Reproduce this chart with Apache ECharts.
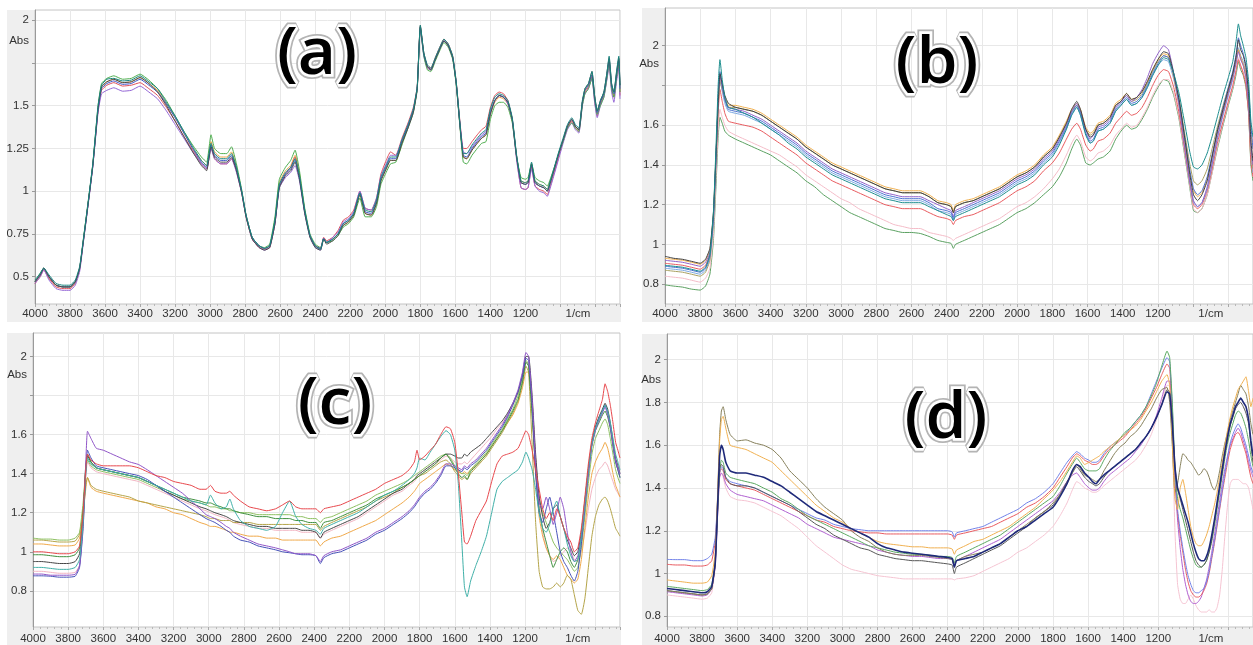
<!DOCTYPE html>
<html><head><meta charset="utf-8">
<script src="https://cdn.jsdelivr.net/npm/echarts@6/dist/echarts.min.js"></script>
<style>html,body{margin:0;padding:0;background:#fff}#c{width:1253px;height:645px}</style>
</head><body><div id="c"></div>
<script>
// ---------- axis tick / label values ----------
const X_LABELS = [4000,3800,3600,3400,3200,3000,2800,2600,2400,2200,2000,1800,1600,1400,1200];
const X_UNIT_AT = 900; // "1/cm" label sits here
const Y_TICKS_A = [0.5,0.75,1,1.25,1.5,1.75,2];
const Y_LABELS_A = [0.5,0.75,1,1.25,1.5,2];
const Y_TICKS_B = [0.8,1,1.2,1.4,1.6,1.8,2];
const Y_LABELS_B = [0.8,1,1.2,1.4,1.6,2];
const Y_TICKS_C = [0.8,1,1.2,1.4,1.6,1.8,2];
const Y_LABELS_C = [0.8,1,1.2,1.4,1.6,2];
const Y_TICKS_D = [0.8,1,1.2,1.4,1.6,1.8,2];
const Y_LABELS_D = [0.8,1,1.2,1.4,1.6,1.8,2];

// ---------- panel (a) ----------
const WN_A = [4000,3970,3950,3920,3880,3840,3800,3770,3745,3725,
3700,3670,3640,3620,3590,3550,3500,3450,3400,3350,
3300,3250,3200,3150,3100,3050,3020,2995,2975,2940,
2905,2878,2850,2820,2795,2760,2720,2690,2660,2630,
2605,2570,2540,2515,2490,2460,2430,2400,2370,2352,
2335,2300,2270,2240,2210,2180,2145,2115,2080,2050,
2025,1995,1970,1940,1905,1870,1840,1818,1800,1780,
1760,1740,1715,1690,1665,1640,1615,1595,1575,1555,
1535,1505,1475,1450,1425,1400,1375,1350,1325,1300,
1275,1250,1225,1200,1185,1165,1145,1120,1095,1075,
1055,1035,1010,985,960,935,915,895,875,860,
840,820,805,790,772,752,735,722,708,695,
680,667,660];
const A_BLUE = [0.47,0.51,0.55,0.50,0.45,0.44,0.44,0.47,0.55,0.70,
0.90,1.15,1.48,1.60,1.63,1.645,1.625,1.63,1.655,1.62,
1.58,1.51,1.43,1.34,1.25,1.17,1.14,1.27,1.21,1.18,
1.18,1.21,1.13,1.00,0.86,0.73,0.68,0.665,0.68,0.82,
1.03,1.10,1.13,1.18,1.08,0.88,0.74,0.68,0.665,0.725,
0.70,0.72,0.75,0.81,0.83,0.87,0.99,0.88,0.87,0.94,
1.07,1.14,1.19,1.19,1.29,1.38,1.47,1.60,1.96,1.80,
1.73,1.71,1.77,1.83,1.88,1.85,1.78,1.63,1.40,1.21,
1.20,1.25,1.29,1.32,1.34,1.46,1.53,1.56,1.55,1.52,
1.42,1.20,1.05,1.04,1.05,1.15,1.05,1.03,1.02,1.00,
1.06,1.13,1.22,1.30,1.38,1.42,1.38,1.36,1.52,1.59,
1.62,1.68,1.55,1.46,1.52,1.57,1.68,1.77,1.62,1.57,
1.68,1.77,1.60];
const A_GREEN = [0.47,0.52,0.55,0.50,0.45,0.44,0.44,0.47,0.55,0.71,
0.91,1.16,1.50,1.63,1.66,1.675,1.655,1.66,1.685,1.65,
1.60,1.53,1.44,1.35,1.27,1.20,1.17,1.33,1.25,1.22,
1.22,1.26,1.16,1.01,0.86,0.73,0.68,0.67,0.69,0.85,
1.07,1.14,1.18,1.24,1.12,0.90,0.75,0.69,0.67,0.72,
0.70,0.71,0.74,0.79,0.81,0.85,0.96,0.85,0.85,0.91,
1.04,1.11,1.16,1.17,1.27,1.37,1.46,1.59,1.95,1.79,
1.71,1.70,1.76,1.82,1.87,1.84,1.77,1.62,1.39,1.17,
1.16,1.21,1.25,1.28,1.29,1.42,1.50,1.52,1.52,1.49,
1.40,1.20,1.08,1.07,1.08,1.16,1.08,1.06,1.05,1.03,
1.08,1.14,1.22,1.29,1.37,1.40,1.37,1.35,1.50,1.57,
1.60,1.66,1.54,1.45,1.50,1.55,1.66,1.75,1.60,1.55,
1.66,1.76,1.58];
const A_TEAL = [0.48,0.52,0.55,0.51,0.46,0.45,0.45,0.48,0.56,0.71,
0.91,1.16,1.50,1.62,1.655,1.66,1.645,1.65,1.675,1.64,
1.60,1.52,1.44,1.35,1.26,1.18,1.15,1.28,1.22,1.19,
1.19,1.22,1.14,1.00,0.86,0.73,0.68,0.665,0.68,0.83,
1.04,1.11,1.14,1.19,1.09,0.89,0.74,0.68,0.66,0.72,
0.70,0.72,0.75,0.81,0.83,0.87,0.99,0.89,0.88,0.95,
1.08,1.15,1.20,1.20,1.30,1.39,1.48,1.61,1.97,1.81,
1.74,1.72,1.78,1.84,1.89,1.86,1.79,1.64,1.41,1.22,
1.22,1.27,1.31,1.34,1.36,1.48,1.55,1.57,1.56,1.53,
1.43,1.21,1.06,1.05,1.06,1.17,1.06,1.04,1.03,1.01,
1.07,1.14,1.23,1.31,1.39,1.43,1.39,1.37,1.53,1.60,
1.63,1.70,1.56,1.47,1.53,1.58,1.69,1.79,1.63,1.58,
1.70,1.79,1.62];
const A_RED = [0.46,0.50,0.54,0.49,0.44,0.43,0.43,0.46,0.54,0.70,
0.90,1.15,1.47,1.59,1.62,1.635,1.615,1.62,1.635,1.60,
1.56,1.49,1.41,1.32,1.24,1.16,1.13,1.26,1.19,1.16,
1.16,1.19,1.12,0.99,0.85,0.72,0.67,0.66,0.67,0.81,
1.03,1.10,1.14,1.20,1.09,0.88,0.74,0.68,0.665,0.73,
0.71,0.73,0.77,0.83,0.85,0.89,1.00,0.90,0.89,0.96,
1.10,1.18,1.23,1.21,1.31,1.40,1.49,1.61,1.96,1.80,
1.73,1.72,1.78,1.84,1.89,1.86,1.79,1.64,1.42,1.25,
1.25,1.29,1.33,1.36,1.38,1.49,1.56,1.58,1.57,1.53,
1.42,1.19,1.02,1.01,1.02,1.14,1.03,1.01,1.00,0.98,
1.04,1.11,1.20,1.29,1.37,1.41,1.37,1.35,1.51,1.58,
1.61,1.67,1.53,1.44,1.51,1.56,1.66,1.75,1.60,1.55,
1.66,1.74,1.56];
const A_PURPLE = [0.46,0.50,0.54,0.48,0.43,0.42,0.42,0.45,0.53,0.69,
0.89,1.14,1.46,1.57,1.59,1.605,1.585,1.59,1.615,1.58,
1.54,1.47,1.39,1.31,1.23,1.16,1.13,1.25,1.19,1.16,
1.16,1.19,1.11,0.99,0.85,0.72,0.67,0.655,0.67,0.81,
1.02,1.08,1.11,1.15,1.06,0.87,0.73,0.67,0.655,0.72,
0.70,0.73,0.76,0.82,0.84,0.88,1.00,0.90,0.89,0.96,
1.09,1.16,1.21,1.21,1.30,1.39,1.48,1.60,1.95,1.79,
1.72,1.71,1.77,1.83,1.88,1.85,1.78,1.63,1.41,1.23,
1.22,1.26,1.30,1.33,1.35,1.46,1.53,1.56,1.55,1.51,
1.41,1.18,1.02,1.01,1.02,1.13,1.03,1.00,0.99,0.97,
1.03,1.10,1.19,1.28,1.36,1.40,1.36,1.34,1.50,1.57,
1.60,1.66,1.52,1.43,1.50,1.55,1.65,1.73,1.58,1.52,
1.64,1.72,1.54];
const A_ORANGE = [0.47,0.51,0.55,0.49,0.45,0.44,0.44,0.47,0.55,0.70,
0.90,1.15,1.48,1.61,1.64,1.655,1.635,1.64,1.665,1.63,
1.59,1.51,1.43,1.34,1.25,1.18,1.15,1.29,1.23,1.20,
1.20,1.23,1.14,1.00,0.86,0.73,0.68,0.665,0.68,0.83,
1.05,1.12,1.15,1.21,1.10,0.89,0.74,0.68,0.665,0.72,
0.70,0.72,0.75,0.80,0.82,0.86,0.98,0.87,0.86,0.93,
1.06,1.13,1.18,1.18,1.28,1.38,1.47,1.60,1.96,1.80,
1.72,1.71,1.77,1.83,1.88,1.85,1.78,1.63,1.40,1.20,
1.19,1.24,1.28,1.31,1.33,1.45,1.52,1.55,1.54,1.51,
1.41,1.20,1.06,1.05,1.06,1.15,1.06,1.04,1.03,1.01,
1.07,1.13,1.22,1.30,1.38,1.42,1.38,1.36,1.52,1.59,
1.62,1.68,1.55,1.46,1.52,1.57,1.67,1.76,1.61,1.56,
1.67,1.77,1.58];
const A_BLACK = [0.47,0.51,0.55,0.50,0.45,0.44,0.44,0.47,0.55,0.70,
0.90,1.15,1.48,1.61,1.64,1.655,1.635,1.64,1.665,1.63,
1.58,1.50,1.41,1.32,1.23,1.15,1.12,1.26,1.20,1.17,
1.17,1.20,1.12,0.99,0.85,0.72,0.67,0.655,0.67,0.81,
1.02,1.09,1.12,1.17,1.07,0.87,0.73,0.67,0.655,0.72,
0.69,0.71,0.74,0.80,0.82,0.86,0.98,0.87,0.86,0.93,
1.06,1.13,1.18,1.18,1.28,1.37,1.46,1.60,1.97,1.81,
1.73,1.71,1.77,1.83,1.88,1.85,1.78,1.63,1.40,1.20,
1.19,1.24,1.28,1.31,1.33,1.45,1.53,1.56,1.55,1.52,
1.42,1.20,1.05,1.04,1.05,1.16,1.05,1.03,1.02,1.00,
1.06,1.13,1.22,1.30,1.38,1.42,1.38,1.36,1.52,1.60,
1.63,1.70,1.56,1.47,1.53,1.58,1.69,1.78,1.63,1.58,
1.69,1.78,1.62];

// ---------- panel (b) ----------
const WN_B = [4000,3950,3900,3850,3800,3770,3745,3725,3710,3698,
3688,3675,3660,3640,3600,3550,3500,3450,3400,3350,
3300,3250,3200,3150,3100,3050,3000,2950,2900,2850,
2800,2750,2700,2650,2600,2550,2500,2450,2400,2375,
2362,2350,2300,2250,2200,2150,2100,2050,2000,1950,
1900,1850,1800,1760,1720,1690,1661,1640,1610,1585,
1567,1540,1510,1472,1440,1410,1378,1350,1320,1290,
1260,1230,1200,1168,1140,1110,1080,1050,1020,998,
975,950,920,890,860,830,800,775,755,743,
730,715,700,685,672,660];
const B_ORANGE = [0.93,0.925,0.92,0.91,0.90,0.92,0.97,1.15,1.45,1.70,
1.84,1.80,1.74,1.70,1.70,1.69,1.68,1.66,1.63,1.60,
1.57,1.54,1.50,1.47,1.44,1.41,1.39,1.37,1.35,1.33,
1.31,1.29,1.28,1.27,1.27,1.27,1.25,1.22,1.21,1.20,
1.17,1.20,1.22,1.23,1.25,1.27,1.29,1.32,1.35,1.37,
1.40,1.45,1.49,1.55,1.62,1.68,1.71,1.68,1.59,1.56,
1.57,1.61,1.62,1.65,1.71,1.73,1.76,1.73,1.74,1.77,
1.82,1.88,1.93,1.96,1.95,1.84,1.70,1.52,1.36,1.27,
1.24,1.26,1.33,1.45,1.57,1.67,1.77,1.85,1.93,1.98,
1.94,1.91,1.86,1.74,1.56,1.48];
const B_BLACK = [0.94,0.93,0.925,0.915,0.905,0.925,0.98,1.16,1.46,1.71,
1.86,1.81,1.75,1.71,1.69,1.68,1.67,1.65,1.62,1.59,
1.56,1.53,1.49,1.46,1.43,1.40,1.38,1.36,1.34,1.32,
1.30,1.28,1.27,1.26,1.26,1.26,1.24,1.21,1.20,1.19,
1.16,1.19,1.21,1.22,1.24,1.26,1.28,1.31,1.34,1.36,
1.39,1.44,1.48,1.54,1.61,1.68,1.72,1.68,1.58,1.54,
1.55,1.60,1.61,1.64,1.70,1.72,1.76,1.73,1.74,1.77,
1.82,1.88,1.93,1.97,1.96,1.86,1.73,1.55,1.36,1.25,
1.22,1.25,1.32,1.45,1.58,1.68,1.78,1.86,1.95,2.03,
1.98,1.95,1.89,1.76,1.52,1.42];
const B_PURPLE = [0.92,0.915,0.91,0.90,0.89,0.91,0.96,1.14,1.44,1.72,
1.85,1.79,1.73,1.69,1.68,1.67,1.65,1.63,1.60,1.57,
1.54,1.51,1.47,1.44,1.41,1.38,1.36,1.34,1.32,1.30,
1.28,1.26,1.25,1.24,1.24,1.24,1.22,1.20,1.18,1.17,
1.14,1.17,1.19,1.21,1.23,1.25,1.27,1.30,1.33,1.35,
1.38,1.43,1.47,1.53,1.60,1.67,1.71,1.67,1.58,1.53,
1.55,1.59,1.60,1.63,1.69,1.72,1.75,1.72,1.74,1.78,
1.84,1.91,1.96,2.00,1.98,1.86,1.70,1.50,1.32,1.22,
1.19,1.21,1.29,1.42,1.55,1.66,1.76,1.84,1.92,1.97,
1.93,1.90,1.84,1.70,1.50,1.40];
const B_BLUE = [0.89,0.885,0.88,0.87,0.86,0.88,0.94,1.13,1.45,1.74,
1.87,1.80,1.73,1.68,1.67,1.66,1.64,1.62,1.59,1.56,
1.53,1.50,1.46,1.43,1.40,1.37,1.35,1.33,1.31,1.29,
1.27,1.25,1.24,1.23,1.23,1.23,1.21,1.18,1.17,1.16,
1.13,1.16,1.18,1.20,1.22,1.24,1.26,1.29,1.32,1.34,
1.37,1.42,1.46,1.52,1.59,1.66,1.70,1.66,1.56,1.52,
1.53,1.58,1.59,1.62,1.68,1.71,1.74,1.71,1.72,1.75,
1.80,1.86,1.91,1.95,1.94,1.85,1.72,1.55,1.38,1.28,
1.25,1.27,1.34,1.46,1.58,1.69,1.79,1.87,1.96,2.04,
2.00,1.96,1.90,1.78,1.60,1.48];
const B_TEAL = [0.895,0.89,0.885,0.875,0.865,0.885,0.95,1.16,1.50,1.80,
1.93,1.83,1.74,1.69,1.68,1.66,1.64,1.61,1.58,1.55,
1.51,1.48,1.44,1.41,1.38,1.35,1.33,1.31,1.29,1.27,
1.25,1.23,1.22,1.21,1.21,1.21,1.19,1.17,1.15,1.14,
1.12,1.14,1.16,1.18,1.20,1.22,1.24,1.27,1.30,1.32,
1.35,1.40,1.44,1.50,1.58,1.65,1.69,1.65,1.55,1.51,
1.52,1.57,1.58,1.61,1.67,1.70,1.73,1.70,1.71,1.74,
1.79,1.85,1.90,1.94,1.93,1.86,1.76,1.62,1.47,1.39,
1.38,1.40,1.46,1.55,1.65,1.75,1.84,1.92,2.03,2.11,
2.05,2.00,1.94,1.82,1.62,1.54];
const B_OLIVE = [0.87,0.865,0.86,0.85,0.84,0.86,0.92,1.12,1.44,1.70,
1.82,1.78,1.73,1.69,1.69,1.68,1.67,1.65,1.62,1.59,
1.56,1.53,1.49,1.46,1.43,1.40,1.38,1.36,1.34,1.32,
1.30,1.28,1.27,1.26,1.26,1.26,1.24,1.21,1.20,1.19,
1.16,1.19,1.21,1.22,1.24,1.26,1.28,1.31,1.34,1.36,
1.39,1.44,1.48,1.54,1.61,1.67,1.70,1.67,1.58,1.55,
1.56,1.60,1.61,1.64,1.70,1.72,1.75,1.72,1.73,1.76,
1.81,1.87,1.92,1.95,1.94,1.85,1.73,1.57,1.41,1.32,
1.30,1.32,1.38,1.49,1.60,1.70,1.79,1.86,1.93,1.98,
1.94,1.90,1.84,1.70,1.48,1.38];
const B_LTBLUE = [0.88,0.875,0.87,0.86,0.85,0.87,0.93,1.12,1.43,1.70,
1.83,1.77,1.71,1.67,1.66,1.65,1.63,1.61,1.58,1.55,
1.52,1.49,1.45,1.42,1.39,1.36,1.34,1.32,1.30,1.28,
1.26,1.24,1.23,1.22,1.22,1.22,1.20,1.17,1.16,1.15,
1.12,1.15,1.17,1.19,1.21,1.23,1.25,1.28,1.31,1.33,
1.36,1.41,1.45,1.51,1.58,1.65,1.69,1.65,1.56,1.51,
1.52,1.57,1.58,1.61,1.67,1.70,1.73,1.70,1.71,1.74,
1.79,1.85,1.90,1.93,1.92,1.83,1.70,1.52,1.33,1.21,
1.19,1.21,1.28,1.41,1.54,1.65,1.75,1.83,1.92,1.99,
1.95,1.92,1.86,1.72,1.48,1.36];
const B_RED = [0.905,0.90,0.895,0.885,0.875,0.895,0.95,1.13,1.42,1.66,
1.78,1.72,1.66,1.62,1.61,1.60,1.59,1.57,1.54,1.51,
1.48,1.45,1.41,1.38,1.35,1.32,1.30,1.28,1.26,1.24,
1.22,1.20,1.19,1.18,1.18,1.18,1.16,1.14,1.13,1.12,
1.10,1.12,1.14,1.15,1.17,1.19,1.21,1.24,1.27,1.29,
1.32,1.37,1.41,1.46,1.53,1.58,1.61,1.58,1.50,1.47,
1.48,1.52,1.53,1.56,1.61,1.64,1.67,1.65,1.66,1.69,
1.74,1.80,1.85,1.88,1.87,1.79,1.66,1.49,1.32,1.20,
1.18,1.20,1.27,1.39,1.52,1.62,1.72,1.80,1.88,1.93,
1.90,1.86,1.80,1.66,1.42,1.34];
const B_PINK = [0.84,0.835,0.83,0.82,0.81,0.83,0.88,1.05,1.35,1.58,
1.68,1.64,1.60,1.57,1.55,1.53,1.51,1.49,1.47,1.45,
1.42,1.39,1.35,1.32,1.29,1.26,1.23,1.21,1.18,1.16,
1.14,1.12,1.10,1.09,1.08,1.08,1.06,1.05,1.04,1.03,
1.02,1.03,1.05,1.07,1.09,1.11,1.13,1.16,1.19,1.21,
1.24,1.28,1.33,1.38,1.45,1.51,1.55,1.52,1.44,1.42,
1.43,1.46,1.47,1.50,1.55,1.58,1.61,1.59,1.60,1.64,
1.69,1.75,1.80,1.83,1.83,1.76,1.64,1.47,1.30,1.18,
1.16,1.18,1.25,1.37,1.50,1.61,1.71,1.79,1.88,1.94,
1.90,1.87,1.81,1.68,1.44,1.34];
const B_GREEN = [0.796,0.79,0.785,0.775,0.77,0.79,0.85,1.02,1.30,1.54,
1.64,1.61,1.57,1.55,1.53,1.51,1.49,1.47,1.45,1.42,
1.39,1.36,1.32,1.29,1.25,1.22,1.19,1.16,1.14,1.12,
1.10,1.08,1.07,1.06,1.06,1.055,1.04,1.02,1.01,1.005,
0.98,1.00,1.02,1.04,1.06,1.08,1.10,1.13,1.16,1.18,
1.21,1.25,1.29,1.34,1.41,1.48,1.53,1.50,1.41,1.40,
1.41,1.43,1.44,1.47,1.53,1.57,1.60,1.58,1.59,1.63,
1.68,1.74,1.79,1.83,1.82,1.75,1.63,1.46,1.29,1.17,
1.16,1.18,1.25,1.37,1.49,1.60,1.70,1.78,1.86,1.92,
1.88,1.85,1.79,1.66,1.40,1.32];

// ---------- panel (c) ----------
const WN_C = [4000,3950,3900,3850,3800,3760,3735,3715,3700,3690,
3670,3640,3600,3550,3500,3450,3400,3350,3300,3250,
3200,3150,3100,3050,3015,2990,2965,2930,2900,2880,
2860,2820,2770,2720,2670,2620,2580,2540,2505,2470,
2430,2390,2365,2345,2300,2250,2200,2150,2100,2050,
2000,1950,1900,1860,1830,1815,1800,1770,1740,1710,
1680,1650,1625,1600,1580,1560,1545,1530,1510,1480,
1450,1420,1390,1360,1330,1300,1270,1240,1215,1195,
1180,1160,1140,1120,1100,1080,1060,1040,1020,1000,
980,960,940,920,900,880,860,840,820,800,
780,760,745,730,715,700,685,672,660];
const C_RED = [1.00,1.00,0.995,0.99,0.99,1.00,1.03,1.20,1.42,1.50,
1.47,1.45,1.44,1.44,1.44,1.44,1.43,1.41,1.39,1.38,
1.36,1.35,1.34,1.32,1.32,1.34,1.31,1.30,1.30,1.31,
1.29,1.26,1.23,1.22,1.21,1.22,1.24,1.26,1.23,1.22,
1.22,1.22,1.20,1.22,1.23,1.24,1.26,1.28,1.30,1.32,
1.35,1.37,1.39,1.42,1.46,1.52,1.47,1.49,1.52,1.55,
1.60,1.64,1.63,1.56,1.40,1.20,1.05,1.04,1.08,1.16,
1.21,1.26,1.36,1.45,1.49,1.50,1.51,1.53,1.58,1.62,
1.60,1.52,1.42,1.32,1.22,1.17,1.20,1.16,1.22,1.18,
1.12,1.08,1.05,1.00,1.02,1.12,1.28,1.45,1.58,1.66,
1.72,1.78,1.86,1.82,1.75,1.66,1.56,1.52,1.48];
const C_TEAL = [0.92,0.92,0.915,0.91,0.91,0.92,0.96,1.15,1.40,1.48,
1.45,1.43,1.42,1.41,1.40,1.39,1.38,1.36,1.34,1.32,
1.30,1.28,1.26,1.25,1.24,1.29,1.25,1.22,1.23,1.27,
1.22,1.16,1.13,1.12,1.11,1.13,1.20,1.26,1.18,1.14,
1.12,1.11,1.09,1.12,1.14,1.16,1.18,1.20,1.23,1.26,
1.29,1.31,1.34,1.37,1.40,1.43,1.48,1.47,1.51,1.55,
1.59,1.62,1.60,1.52,1.35,1.05,0.82,0.77,0.85,0.93,
1.00,1.08,1.20,1.32,1.36,1.38,1.40,1.42,1.46,1.51,
1.48,1.42,1.32,1.20,1.12,1.10,1.14,1.22,1.26,1.18,
1.12,1.04,0.98,0.95,0.96,1.08,1.25,1.42,1.55,1.63,
1.68,1.72,1.75,1.72,1.66,1.58,1.50,1.46,1.42];
const C_GREEN = [0.985,0.985,0.98,0.975,0.975,0.985,1.02,1.20,1.44,1.50,
1.46,1.43,1.42,1.41,1.40,1.39,1.38,1.36,1.34,1.32,
1.30,1.28,1.27,1.26,1.25,1.25,1.24,1.23,1.22,1.22,
1.21,1.20,1.19,1.18,1.18,1.17,1.17,1.17,1.16,1.16,
1.15,1.15,1.12,1.15,1.16,1.18,1.20,1.22,1.24,1.27,
1.29,1.31,1.33,1.35,1.37,1.38,1.39,1.41,1.43,1.45,
1.48,1.50,1.47,1.43,1.40,1.38,1.39,1.37,1.41,1.44,
1.47,1.50,1.54,1.58,1.62,1.67,1.72,1.78,1.87,1.97,
1.95,1.70,1.42,1.22,1.12,1.05,0.98,0.92,0.96,1.00,
1.02,1.00,0.95,0.92,0.96,1.08,1.25,1.42,1.55,1.62,
1.66,1.70,1.72,1.69,1.63,1.54,1.46,1.42,1.38];
const C_LGREEN = [1.07,1.065,1.065,1.06,1.06,1.07,1.10,1.25,1.42,1.47,
1.44,1.42,1.41,1.40,1.39,1.38,1.37,1.35,1.33,1.31,
1.29,1.27,1.26,1.25,1.24,1.23,1.23,1.22,1.22,1.21,
1.21,1.20,1.20,1.19,1.19,1.19,1.19,1.19,1.18,1.18,
1.17,1.17,1.15,1.17,1.18,1.20,1.22,1.24,1.26,1.29,
1.31,1.33,1.35,1.37,1.39,1.40,1.41,1.43,1.45,1.47,
1.49,1.50,1.48,1.44,1.42,1.40,1.40,1.39,1.42,1.45,
1.48,1.51,1.55,1.59,1.63,1.68,1.73,1.80,1.89,1.98,
1.96,1.72,1.45,1.28,1.20,1.15,1.10,1.05,1.02,1.00,
0.98,0.96,0.93,0.90,0.92,1.02,1.18,1.35,1.50,1.58,
1.62,1.66,1.68,1.65,1.58,1.50,1.42,1.38,1.35];
const C_BLACK = [0.95,0.95,0.945,0.94,0.94,0.95,0.99,1.18,1.42,1.49,
1.46,1.43,1.42,1.41,1.40,1.39,1.38,1.36,1.34,1.31,
1.29,1.27,1.25,1.23,1.22,1.21,1.20,1.19,1.18,1.17,
1.16,1.15,1.14,1.13,1.13,1.12,1.12,1.12,1.12,1.11,
1.11,1.10,1.07,1.10,1.12,1.14,1.16,1.18,1.21,1.24,
1.27,1.30,1.32,1.35,1.37,1.39,1.40,1.42,1.44,1.46,
1.48,1.50,1.50,1.49,1.48,1.48,1.50,1.49,1.51,1.53,
1.55,1.58,1.61,1.64,1.67,1.71,1.76,1.82,1.91,2.00,
2.00,1.80,1.50,1.28,1.18,1.12,1.15,1.22,1.24,1.18,
1.12,1.06,1.02,0.98,1.00,1.10,1.26,1.42,1.56,1.64,
1.69,1.73,1.76,1.73,1.66,1.57,1.48,1.44,1.40];
const C_PURPLE = [0.886,0.886,0.88,0.88,0.88,0.885,0.93,1.15,1.45,1.617,
1.58,1.53,1.52,1.50,1.48,1.46,1.447,1.42,1.39,1.36,
1.33,1.30,1.26,1.22,1.19,1.18,1.17,1.15,1.13,1.12,
1.10,1.08,1.06,1.04,1.03,1.02,1.01,1.00,0.99,0.99,
0.99,0.98,0.95,0.98,1.00,1.01,1.03,1.05,1.07,1.10,
1.12,1.15,1.18,1.21,1.24,1.26,1.28,1.31,1.33,1.36,
1.40,1.45,1.45,1.44,1.43,1.42,1.44,1.43,1.45,1.47,
1.50,1.53,1.57,1.61,1.65,1.70,1.76,1.83,1.92,2.02,
2.00,1.78,1.45,1.25,1.22,1.28,1.22,1.14,1.20,1.28,
1.22,1.10,1.00,0.95,0.98,1.08,1.24,1.40,1.54,1.62,
1.67,1.71,1.74,1.70,1.64,1.55,1.47,1.43,1.40];
const C_NAVY = [0.877,0.877,0.875,0.87,0.87,0.875,0.92,1.12,1.40,1.52,
1.48,1.44,1.43,1.42,1.41,1.40,1.39,1.37,1.34,1.31,
1.28,1.25,1.22,1.19,1.17,1.16,1.15,1.13,1.11,1.10,
1.08,1.06,1.05,1.03,1.02,1.01,1.00,0.995,0.99,0.985,
0.985,0.98,0.94,0.97,0.99,1.00,1.02,1.04,1.06,1.09,
1.11,1.14,1.17,1.20,1.23,1.25,1.27,1.30,1.32,1.35,
1.39,1.44,1.44,1.43,1.42,1.41,1.43,1.42,1.44,1.46,
1.49,1.52,1.56,1.60,1.64,1.69,1.75,1.82,1.90,1.99,
1.98,1.75,1.40,1.20,1.15,1.22,1.28,1.20,1.10,1.00,
0.95,0.92,0.88,0.85,0.90,1.04,1.22,1.40,1.55,1.63,
1.68,1.72,1.75,1.71,1.64,1.55,1.46,1.42,1.38];
const C_ORANGE = [1.04,1.04,1.035,1.03,1.03,1.035,1.07,1.20,1.32,1.38,
1.33,1.31,1.30,1.29,1.28,1.27,1.26,1.25,1.23,1.22,
1.20,1.19,1.17,1.15,1.14,1.13,1.13,1.12,1.11,1.10,
1.10,1.09,1.08,1.08,1.07,1.07,1.06,1.06,1.06,1.06,
1.06,1.06,1.03,1.05,1.07,1.08,1.10,1.12,1.14,1.16,
1.19,1.22,1.25,1.28,1.31,1.33,1.35,1.37,1.39,1.41,
1.43,1.45,1.44,1.42,1.41,1.40,1.41,1.40,1.42,1.44,
1.47,1.50,1.54,1.58,1.62,1.66,1.70,1.76,1.84,1.92,
1.92,1.72,1.40,1.18,1.08,1.02,0.98,0.96,0.98,0.96,
0.92,0.88,0.86,0.84,0.86,0.96,1.12,1.28,1.40,1.46,
1.50,1.53,1.56,1.53,1.47,1.40,1.34,1.31,1.28];
const C_KHAKI = [1.06,1.06,1.055,1.05,1.05,1.055,1.09,1.22,1.34,1.38,
1.34,1.32,1.31,1.30,1.29,1.28,1.26,1.25,1.24,1.23,
1.22,1.21,1.20,1.19,1.18,1.17,1.17,1.16,1.16,1.16,
1.15,1.15,1.15,1.14,1.14,1.14,1.14,1.14,1.14,1.14,
1.14,1.14,1.11,1.13,1.15,1.17,1.19,1.21,1.23,1.26,
1.28,1.30,1.33,1.35,1.37,1.38,1.39,1.40,1.42,1.44,
1.46,1.47,1.45,1.41,1.39,1.37,1.38,1.37,1.40,1.43,
1.46,1.49,1.53,1.57,1.61,1.66,1.71,1.77,1.86,1.95,
1.92,1.55,1.15,0.90,0.82,0.81,0.81,0.82,0.84,0.82,
0.84,0.88,0.86,0.78,0.70,0.68,0.76,0.92,1.08,1.18,
1.24,1.27,1.28,1.26,1.22,1.17,1.12,1.10,1.08];
const C_PINK = [0.90,0.90,0.895,0.89,0.89,0.895,0.93,1.12,1.38,1.46,
1.43,1.41,1.40,1.39,1.38,1.37,1.36,1.34,1.32,1.30,
1.28,1.26,1.24,1.22,1.21,1.20,1.19,1.18,1.17,1.16,
1.15,1.14,1.13,1.12,1.12,1.11,1.11,1.11,1.11,1.10,
1.10,1.10,1.07,1.09,1.11,1.13,1.15,1.17,1.20,1.23,
1.26,1.29,1.31,1.34,1.36,1.38,1.39,1.41,1.43,1.45,
1.47,1.49,1.48,1.46,1.45,1.45,1.46,1.45,1.47,1.50,
1.53,1.56,1.59,1.63,1.66,1.70,1.75,1.81,1.89,1.97,
1.96,1.76,1.48,1.25,1.10,1.02,0.98,0.95,0.96,0.98,
1.00,1.02,1.00,0.96,0.95,1.00,1.10,1.22,1.32,1.38,
1.42,1.44,1.46,1.44,1.40,1.36,1.32,1.30,1.28];

// ---------- panel (d) ----------
const WN_D = [4000,3950,3900,3850,3800,3770,3745,3725,3710,3700,
3690,3680,3665,3640,3600,3550,3500,3450,3400,3350,
3300,3250,3200,3150,3100,3050,3000,2950,2900,2850,
2800,2750,2700,2650,2600,2550,2500,2450,2400,2375,
2362,2350,2300,2250,2200,2150,2100,2050,2000,1950,
1900,1850,1800,1760,1720,1690,1665,1645,1620,1595,
1575,1555,1535,1510,1480,1450,1420,1390,1360,1330,
1300,1270,1240,1210,1180,1150,1135,1120,1105,1090,
1075,1060,1045,1030,1015,1000,985,970,955,940,
925,910,895,880,865,850,835,820,805,790,
775,760,745,730,715,700,685,672,660];
const D_OLIVE = [0.92,0.915,0.91,0.905,0.90,0.905,0.93,1.05,1.40,1.65,
1.76,1.78,1.72,1.65,1.62,1.625,1.61,1.60,1.58,1.54,
1.48,1.44,1.40,1.35,1.31,1.28,1.25,1.20,1.17,1.15,
1.12,1.10,1.09,1.085,1.085,1.085,1.08,1.075,1.07,1.065,
1.03,1.06,1.08,1.09,1.10,1.12,1.14,1.17,1.20,1.23,
1.26,1.29,1.33,1.37,1.42,1.47,1.51,1.49,1.46,1.45,
1.44,1.43,1.44,1.48,1.52,1.56,1.59,1.61,1.64,1.66,
1.69,1.73,1.77,1.82,1.86,1.87,1.80,1.60,1.38,1.42,
1.50,1.56,1.55,1.53,1.52,1.50,1.48,1.46,1.47,1.49,
1.48,1.45,1.41,1.39,1.42,1.48,1.55,1.61,1.66,1.72,
1.76,1.80,1.84,1.88,1.86,1.84,1.78,1.70,1.65];
const D_ORANGE = [0.97,0.965,0.96,0.955,0.955,0.96,0.99,1.10,1.40,1.62,
1.72,1.735,1.68,1.60,1.59,1.58,1.56,1.54,1.52,1.48,
1.44,1.40,1.36,1.32,1.29,1.26,1.24,1.21,1.19,1.17,
1.15,1.14,1.135,1.13,1.125,1.125,1.12,1.12,1.12,1.115,
1.09,1.11,1.13,1.15,1.16,1.18,1.20,1.22,1.25,1.28,
1.31,1.35,1.39,1.43,1.48,1.52,1.55,1.54,1.51,1.52,
1.53,1.54,1.55,1.57,1.59,1.61,1.63,1.65,1.67,1.69,
1.72,1.76,1.80,1.85,1.90,1.93,1.88,1.62,1.35,1.30,
1.40,1.44,1.38,1.30,1.22,1.17,1.14,1.13,1.13,1.15,
1.18,1.22,1.27,1.32,1.38,1.45,1.52,1.60,1.67,1.73,
1.78,1.82,1.86,1.88,1.90,1.92,1.85,1.78,1.82];
const D_NAVY = [0.93,0.925,0.92,0.915,0.91,0.915,0.94,1.05,1.35,1.55,
1.60,1.58,1.52,1.48,1.47,1.47,1.46,1.45,1.43,1.41,
1.38,1.35,1.32,1.29,1.27,1.25,1.23,1.21,1.19,1.17,
1.14,1.12,1.11,1.10,1.095,1.09,1.085,1.08,1.075,1.07,
1.03,1.06,1.07,1.08,1.10,1.12,1.14,1.17,1.20,1.22,
1.25,1.28,1.31,1.36,1.42,1.48,1.51,1.50,1.47,1.45,
1.43,1.42,1.44,1.46,1.48,1.50,1.52,1.54,1.56,1.58,
1.61,1.64,1.68,1.73,1.79,1.85,1.84,1.70,1.50,1.40,
1.36,1.32,1.28,1.24,1.19,1.14,1.10,1.07,1.06,1.06,
1.08,1.12,1.18,1.25,1.33,1.41,1.49,1.57,1.64,1.70,
1.74,1.78,1.80,1.82,1.80,1.78,1.72,1.62,1.55];
const D_GREEN = [0.94,0.935,0.93,0.925,0.92,0.925,0.95,1.06,1.32,1.48,
1.53,1.52,1.47,1.45,1.44,1.43,1.42,1.40,1.38,1.35,
1.33,1.30,1.27,1.25,1.23,1.21,1.19,1.17,1.15,1.13,
1.12,1.11,1.10,1.095,1.09,1.09,1.085,1.08,1.08,1.075,
1.05,1.08,1.10,1.12,1.14,1.16,1.18,1.21,1.24,1.27,
1.30,1.33,1.36,1.41,1.47,1.51,1.54,1.52,1.49,1.48,
1.48,1.48,1.49,1.53,1.57,1.60,1.63,1.66,1.68,1.71,
1.74,1.78,1.83,1.89,1.97,2.04,2.01,1.80,1.50,1.35,
1.30,1.26,1.21,1.16,1.11,1.07,1.04,1.03,1.03,1.04,
1.06,1.10,1.15,1.22,1.30,1.38,1.46,1.54,1.61,1.66,
1.70,1.74,1.76,1.75,1.72,1.68,1.62,1.55,1.50];
const D_BLACK = [0.92,0.915,0.91,0.905,0.90,0.905,0.93,1.05,1.33,1.49,
1.51,1.50,1.45,1.42,1.41,1.41,1.40,1.38,1.36,1.34,
1.32,1.29,1.26,1.23,1.21,1.18,1.16,1.14,1.12,1.11,
1.09,1.08,1.07,1.065,1.06,1.06,1.055,1.05,1.045,1.04,
1.00,1.03,1.05,1.07,1.09,1.11,1.13,1.16,1.19,1.22,
1.26,1.29,1.32,1.37,1.43,1.47,1.50,1.48,1.45,1.43,
1.42,1.41,1.42,1.45,1.48,1.50,1.52,1.54,1.56,1.58,
1.61,1.64,1.68,1.73,1.79,1.86,1.85,1.70,1.50,1.40,
1.35,1.30,1.25,1.20,1.15,1.10,1.06,1.04,1.03,1.04,
1.06,1.10,1.16,1.24,1.32,1.40,1.48,1.56,1.63,1.69,
1.73,1.77,1.79,1.80,1.78,1.75,1.70,1.60,1.52];
const D_PURPLE = [0.915,0.91,0.905,0.90,0.895,0.90,0.93,1.04,1.30,1.45,
1.47,1.46,1.42,1.39,1.37,1.36,1.35,1.34,1.32,1.30,
1.28,1.26,1.23,1.21,1.19,1.17,1.16,1.15,1.14,1.13,
1.11,1.10,1.09,1.085,1.08,1.08,1.075,1.07,1.07,1.065,
1.04,1.06,1.08,1.10,1.12,1.14,1.16,1.19,1.22,1.25,
1.28,1.31,1.34,1.38,1.43,1.46,1.47,1.45,1.42,1.40,
1.39,1.39,1.40,1.43,1.46,1.48,1.50,1.52,1.54,1.57,
1.60,1.64,1.68,1.74,1.82,1.90,1.90,1.74,1.45,1.25,
1.12,1.02,0.95,0.90,0.87,0.86,0.86,0.87,0.89,0.93,
0.97,1.03,1.10,1.18,1.26,1.34,1.42,1.49,1.55,1.60,
1.63,1.66,1.68,1.66,1.62,1.58,1.52,1.48,1.45];
const D_PINK = [0.90,0.895,0.89,0.885,0.88,0.885,0.91,1.03,1.30,1.45,
1.47,1.45,1.40,1.36,1.345,1.34,1.33,1.31,1.29,1.27,
1.24,1.21,1.17,1.13,1.10,1.07,1.04,1.02,1.01,1.00,
0.99,0.985,0.98,0.975,0.975,0.975,0.975,0.975,0.975,0.975,
0.97,0.975,0.98,0.99,1.01,1.03,1.05,1.07,1.10,1.12,
1.15,1.18,1.22,1.27,1.33,1.39,1.43,1.42,1.40,1.39,
1.38,1.38,1.39,1.41,1.43,1.45,1.47,1.49,1.51,1.53,
1.56,1.60,1.65,1.72,1.80,1.88,1.88,1.65,1.20,0.95,
0.88,0.86,0.86,0.88,0.90,0.88,0.85,0.83,0.82,0.82,
0.82,0.83,0.82,0.82,0.84,0.90,1.02,1.18,1.32,1.42,
1.44,1.44,1.44,1.43,1.42,1.42,1.40,1.35,1.30];
const D_RED = [1.043,1.04,1.04,1.035,1.035,1.04,1.06,1.15,1.35,1.47,
1.49,1.48,1.44,1.42,1.41,1.40,1.39,1.37,1.35,1.33,
1.31,1.29,1.27,1.25,1.24,1.22,1.21,1.20,1.195,1.19,
1.19,1.185,1.185,1.185,1.185,1.185,1.185,1.185,1.185,1.18,
1.16,1.18,1.19,1.20,1.21,1.22,1.24,1.26,1.28,1.31,
1.33,1.36,1.40,1.45,1.50,1.54,1.56,1.55,1.53,1.52,
1.51,1.51,1.52,1.55,1.58,1.60,1.62,1.64,1.67,1.70,
1.73,1.77,1.82,1.87,1.93,1.98,1.96,1.75,1.45,1.28,
1.18,1.10,1.02,0.96,0.92,0.90,0.89,0.89,0.90,0.92,
0.95,1.00,1.07,1.14,1.22,1.30,1.38,1.45,1.52,1.58,
1.62,1.65,1.66,1.64,1.60,1.56,1.50,1.45,1.42];
const D_BLUE = [1.066,1.065,1.065,1.06,1.06,1.07,1.09,1.17,1.36,1.47,
1.50,1.49,1.45,1.43,1.42,1.41,1.40,1.38,1.36,1.34,
1.32,1.30,1.28,1.26,1.25,1.23,1.22,1.21,1.205,1.20,
1.20,1.20,1.20,1.20,1.20,1.20,1.20,1.20,1.20,1.195,
1.17,1.19,1.20,1.21,1.22,1.24,1.26,1.28,1.30,1.33,
1.35,1.38,1.42,1.47,1.52,1.55,1.57,1.56,1.54,1.53,
1.52,1.52,1.53,1.56,1.59,1.61,1.63,1.65,1.68,1.71,
1.74,1.78,1.84,1.90,1.96,2.01,1.99,1.78,1.48,1.30,
1.20,1.12,1.05,0.99,0.95,0.92,0.91,0.91,0.92,0.93,
0.96,1.01,1.08,1.15,1.23,1.31,1.39,1.47,1.54,1.61,
1.65,1.68,1.70,1.68,1.64,1.60,1.55,1.50,1.47];

// ---------- build ----------
const FONT = '"Liberation Sans", Arial, sans-serif';
const panels = [
  {grid:{left:35,top:10,width:585,height:294}, y:[0.34,2.06], ticks:Y_TICKS_A, labels:Y_LABELS_A, nameGap:-37, lblMargin:4,
   wn:WN_A, tag:'(a)', tagPos:[317,55], bg:[7,10,614,312],
   lines:[[A_ORANGE,'#eea447'],[A_RED,'#e0505a'],[A_PURPLE,'#9466d6'],[A_GREEN,'#4fae4f'],[A_BLUE,'#3d56c8'],[A_BLACK,'#4a4a4a'],[A_TEAL,'#17857f']]},
  {grid:{left:665,top:8,width:588,height:296}, y:[0.70,2.19], ticks:Y_TICKS_B, labels:Y_LABELS_B, nameGap:-62, lblMargin:4,
   wn:WN_B, tag:'(b)', tagPos:[937,64], bg:[642,8,611,314],
   lines:[[B_GREEN,'#5aa060'],[B_PINK,'#f4bcc8'],[B_RED,'#e85a5e'],[B_LTBLUE,'#7aa8e0'],[B_OLIVE,'#a8a060'],[B_ORANGE,'#f0b050'],[B_PURPLE,'#9060c8'],[B_BLUE,'#4a70d0'],[B_BLACK,'#404040'],[B_TEAL,'#1a8c8c']]},
  {grid:{left:33,top:333,width:587,height:295}, y:[0.615,2.12], ticks:Y_TICKS_C, labels:Y_LABELS_C, nameGap:-48, lblMargin:6,
   wn:WN_C, tag:'(c)', tagPos:[335,405], bg:[7,333,614,312],
   lines:[[C_PINK,'#f2b4c2'],[C_ORANGE,'#f0a848'],[C_KHAKI,'#b4a448'],[C_LGREEN,'#8cc060'],[C_BLACK,'#454545'],[C_GREEN,'#3d8f3d'],[C_NAVY,'#4450b8'],[C_PURPLE,'#9055c8'],[C_TEAL,'#3fb0a8'],[C_RED,'#e8474c']]},
  {grid:{left:667,top:334,width:586,height:294}, y:[0.75,2.12], ticks:Y_TICKS_D, labels:Y_LABELS_D, nameGap:-52, lblMargin:6,
   wn:WN_D, tag:'(d)', tagPos:[946,419], bg:[642,334,611,311],
   lines:[[D_PINK,'#f5c4d2'],[D_PURPLE,'#b060d0'],[D_RED,'#e85a60'],[D_BLUE,'#7080e8'],[D_GREEN,'#5aa860'],[D_BLACK,'#555555'],[D_OLIVE,'#857f5a'],[D_ORANGE,'#f0b050'],[D_NAVY,'#1f2a7a',1.6]]}
];

const grids=[], xAxes=[], yAxes=[], series=[], graphics=[];
panels.forEach((p,i)=>{
  grids.push(Object.assign({show:true, backgroundColor:'#fff', borderColor:'#c4c4c4', borderWidth:1}, p.grid));
  xAxes.push({gridIndex:i, type:'value', min:660, max:4000, inverse:true, splitNumber:16,
    axisLine:{show:false},
    axisTick:{show:true, length:3, lineStyle:{color:'#a8a8a8'}},
    minorTick:{show:true, splitNumber:5, length:2, lineStyle:{color:'#b8b8b8'}},
    splitLine:{show:true, lineStyle:{color:'#e8e8e8', width:1}},
    axisLabel:{customValues:X_LABELS.concat([X_UNIT_AT]), formatter:v=> v===X_UNIT_AT ? '1/cm' : String(v),
      margin:p.lblMargin, color:'#333', fontSize:11.5, fontFamily:FONT, hideOverlap:false}
  });
  yAxes.push({gridIndex:i, type:'value', min:p.y[0], max:p.y[1],
    axisLine:{show:true, lineStyle:{color:'#9a9a9a'}},
    axisTick:{show:true, customValues:p.ticks, length:3, lineStyle:{color:'#9a9a9a'}},
    splitLine:{show:true, lineStyle:{color:'#e8e8e8', width:1}},
    axisLabel:{customValues:p.labels, margin:6, color:'#333', fontSize:11.5, fontFamily:FONT, hideOverlap:false},
    name:'Abs', nameLocation:'end', nameGap:p.nameGap, nameMoveOverlap:false,
    nameTextStyle:{align:'right', padding:[0,6,0,0], color:'#333', fontSize:11.5, fontFamily:FONT}
  });
  p.lines.forEach(([vals,color,w])=>{
    series.push({type:'line', xAxisIndex:i, yAxisIndex:i, data:p.wn.map((x,k)=>[x, vals[k]]),
      showSymbol:false, symbol:'none', smooth:0.15, silent:true,
      lineStyle:{color, width:w||1}, itemStyle:{color}});
  });
  graphics.push({type:'rect', z:-5, shape:{x:p.bg[0], y:p.bg[1], width:p.bg[2], height:p.bg[3]}, style:{fill:'#efefef'}});
  graphics.push({type:'text', z:100, x:p.tagPos[0], y:p.tagPos[1],
    style:{text:p.tag, font:'600 66px "Open Sans", sans-serif', align:'center', verticalAlign:'middle',
      fill:'#a0a0a0', stroke:'#b4b4b4', lineWidth:9, shadowBlur:3, shadowColor:'rgba(0,0,0,0.35)'}});
  graphics.push({type:'text', z:101, x:p.tagPos[0], y:p.tagPos[1],
    style:{text:p.tag, font:'600 66px "Open Sans", sans-serif', align:'center', verticalAlign:'middle',
      fill:new echarts.graphic.LinearGradient(0,0,0,1,[{offset:0,color:'#000'},{offset:0.42,color:'#1a1a1a'},{offset:0.5,color:'#6a6a6a'},{offset:0.58,color:'#111'},{offset:1,color:'#000'}]),
      stroke:'#ffffff', lineWidth:5.5, strokeFirst:true}});
});

const chart = echarts.init(document.getElementById('c'), null, {renderer:'canvas'});
chart.setOption({animation:false, backgroundColor:'#fff', grid:grids, xAxis:xAxes, yAxis:yAxes, series, graphic:{elements:graphics}});
</script></body></html>
